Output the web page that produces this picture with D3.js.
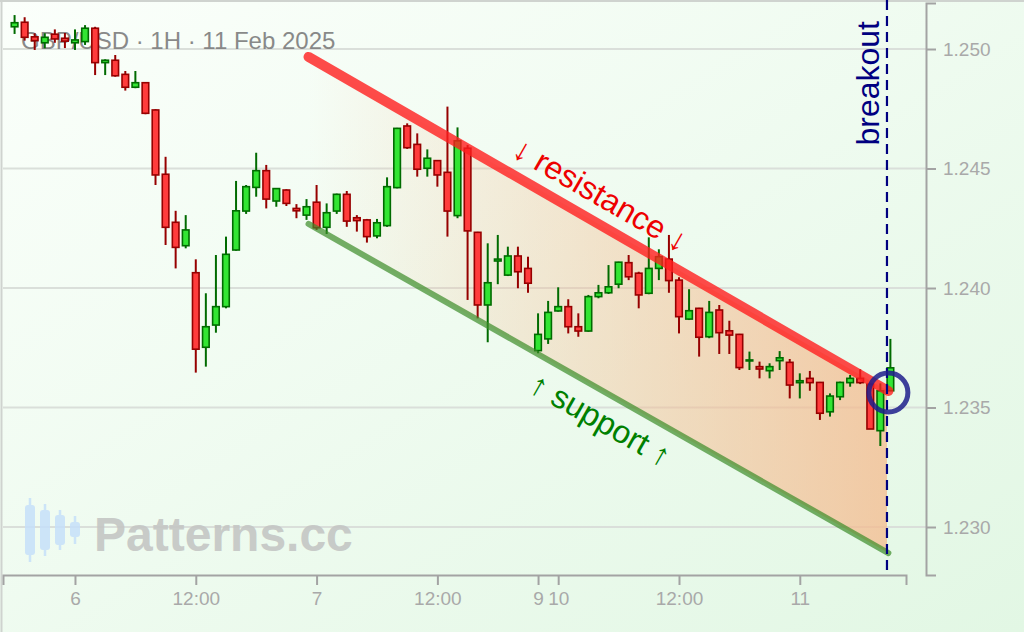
<!DOCTYPE html>
<html>
<head>
<meta charset="utf-8">
<title>GBP/USD 1H channel</title>
<script src="https://cdn.jsdelivr.net/npm/d3@7"></script>
<style>
  body { margin: 0; background: #f4fdf4; }
  .axis text { font-family: "Liberation Sans", Arial, sans-serif; font-size: 19px; fill: #a9a9a9; }
  .axis path, .axis line { stroke: #a3a3a3; stroke-width: 2; }
  .lbl { font-family: "Liberation Sans", Arial, sans-serif; }
</style>
</head>
<body>
<div id="chart"></div>
<script>
// hourly candles, index 0 = 5 Feb 18:00 (weekend gap removed)
var opens = [1.25093,1.25112,1.25051,1.25026,1.25062,1.25045,1.25026,1.25031,1.25087,1.24943,
  1.24953,1.24894,1.24840,1.24859,1.24745,1.24476,1.24275,1.24177,1.24064,1.23752,
  1.23845,1.23922,1.24159,1.24322,1.24421,1.24491,1.24364,1.24410,1.24333,1.24305,
  1.24359,1.24254,1.24322,1.24392,1.24294,1.24285,1.24218,1.24261,1.24420,1.24678,
  1.24601,1.24501,1.24533,1.24484,1.24303,1.24585,1.24233,1.23929,1.24113,1.24054,
  1.24134,1.24082,1.23738,1.23787,1.23904,1.23922,1.23838,1.23820,1.23964,1.23980,
  1.24016,1.24106,1.24062,1.23978,1.24082,1.24121,1.24033,1.23870,1.23915,1.23796,
  1.23908,1.23821,1.23806,1.23695,1.23671,1.23654,1.23696,1.23689,1.23604,1.23622,
  1.23605,1.23482,1.23545,1.23604,1.23622,1.23598,1.23403,1.23570];
var highs = [1.25142,1.25133,1.25066,1.25066,1.25082,1.25067,1.25082,1.25100,1.25093,1.24957,
  1.24975,1.24908,1.24908,1.24861,1.24748,1.24549,1.24323,1.24305,1.24120,1.23978,
  1.24138,1.24215,1.24448,1.24431,1.24566,1.24515,1.24418,1.24413,1.24351,1.24372,
  1.24431,1.24354,1.24395,1.24406,1.24305,1.24289,1.24289,1.24463,1.24670,1.24689,
  1.24647,1.24580,1.24535,1.24759,1.24672,1.24598,1.24235,1.24187,1.24222,1.24173,
  1.24173,1.24131,1.23894,1.23946,1.24003,1.23953,1.23894,1.23971,1.24013,1.24096,
  1.24110,1.24138,1.24068,1.24212,1.24162,1.24222,1.24045,1.23995,1.23917,1.23946,
  1.23929,1.23863,1.23808,1.23734,1.23692,1.23685,1.23736,1.23703,1.23643,1.23653,
  1.23607,1.23559,1.23608,1.23636,1.23660,1.23601,1.23601,1.23787];
var lows = [1.25063,1.25035,1.24996,1.25003,1.25026,1.25004,1.24996,1.25017,1.24891,1.24891,
  1.24884,1.24826,1.24836,1.24727,1.24431,1.24180,1.24082,1.24166,1.23646,1.23671,
  1.23813,1.23915,1.24156,1.24310,1.24382,1.24333,1.24340,1.24343,1.24292,1.24285,
  1.24243,1.24226,1.24310,1.24256,1.24236,1.24190,1.24208,1.24256,1.24417,1.24582,
  1.24466,1.24466,1.24424,1.24215,1.24292,1.23950,1.23873,1.23773,1.24016,1.24050,
  1.23999,1.23980,1.23727,1.23766,1.23901,1.23810,1.23796,1.23817,1.23957,1.23975,
  1.23999,1.24033,1.23915,1.23974,1.24033,1.23980,1.23810,1.23866,1.23713,1.23790,
  1.23724,1.23724,1.23657,1.23657,1.23622,1.23622,1.23657,1.23538,1.23538,1.23570,
  1.23448,1.23462,1.23531,1.23587,1.23598,1.23410,1.23339,1.23570];
var closes = [1.25110,1.25049,1.25035,1.25049,1.25042,1.25033,1.25038,1.25087,1.24943,1.24953,
  1.24888,1.24840,1.24859,1.24731,1.24473,1.24254,1.24170,1.24243,1.23744,1.23838,
  1.23922,1.24141,1.24323,1.24424,1.24491,1.24372,1.24416,1.24354,1.24323,1.24340,
  1.24252,1.24315,1.24392,1.24280,1.24282,1.24215,1.24273,1.24424,1.24668,1.24587,
  1.24497,1.24543,1.24473,1.24322,1.24616,1.24239,1.23929,1.24022,1.24121,1.24134,
  1.24068,1.24020,1.23806,1.23898,1.23922,1.23838,1.23820,1.23964,1.23980,1.24005,
  1.24108,1.24047,1.23971,1.24082,1.24131,1.24031,1.23880,1.23905,1.23794,1.23898,
  1.23813,1.23803,1.23667,1.23699,1.23661,1.23671,1.23708,1.23594,1.23612,1.23604,
  1.23476,1.23548,1.23605,1.23622,1.23604,1.23410,1.23570,1.23666];

var xTickIdx = [6, 18, 30, 42, 52, 54, 66, 78];
var xTickLabels = ["6", "12:00", "7", "12:00", "9", "10", "12:00", "11"];
var yTicks = [1.230, 1.235, 1.240, 1.245, 1.250];

// channel lines [index, price]
var resistance = [[29.2, 1.24967], [86.8, 1.23569]];
var support = [[29.2, 1.24268], [86.8, 1.22891]];
var breakoutIdx = 86.66;
var breakoutPoint = [86.8, 1.23563];
var resLabel = [58.15, 1.24385];
var supLabel = [58.15, 1.23444];

var W = 1024, H = 632;
var svg = d3.select("#chart").append("svg").attr("width", W).attr("height", H);
var defs = svg.append("defs");

var bg = defs.append("linearGradient").attr("id", "bg")
  .attr("x1", 0).attr("y1", 0).attr("x2", 1).attr("y2", 1);
bg.append("stop").attr("offset", "0%").attr("stop-color", "#fbfffb");
bg.append("stop").attr("offset", "100%").attr("stop-color", "#e2f7e4");
svg.append("rect").attr("width", W).attr("height", H).attr("fill", "url(#bg)");

// frame
svg.append("line").attr("x1", 1.5).attr("x2", 1.5).attr("y1", 0).attr("y2", H).attr("stroke", "#cfd3cf").attr("stroke-width", 2);
svg.append("line").attr("x1", 0).attr("x2", W).attr("y1", 1).attr("y2", 1).attr("stroke", "#cfd3cf").attr("stroke-width", 2);

var x = d3.scaleLinear().domain([-1.15, 88.55]).range([3, 906]);
var y = d3.scaleLinear().domain([1.227992, 1.251925]).range([575, 3]);

// grid
svg.append("g").selectAll("line").data(yTicks).enter().append("line")
  .attr("x1", 3).attr("x2", 926)
  .attr("y1", function(d) { return y(d); }).attr("y2", function(d) { return y(d); })
  .attr("stroke", "#dadfda").attr("stroke-width", 2);

// channel fill, fading in to the right
function lineAt(l, i) {
  var t = (i - l[0][0]) / (l[1][0] - l[0][0]);
  return l[0][1] + t * (l[1][1] - l[0][1]);
}
var fg = defs.append("linearGradient").attr("id", "chan").attr("gradientUnits", "userSpaceOnUse")
  .attr("x1", x(resistance[0][0])).attr("x2", x(breakoutIdx)).attr("y1", 0).attr("y2", 0);
fg.append("stop").attr("offset", "0%").attr("stop-color", "#f5b98c").attr("stop-opacity", 0);
fg.append("stop").attr("offset", "100%").attr("stop-color", "#f5b98c").attr("stop-opacity", 0.74);
var poly = [
  [resistance[0][0], resistance[0][1]],
  [breakoutIdx, lineAt(resistance, breakoutIdx)],
  [breakoutIdx, lineAt(support, breakoutIdx)],
  [support[0][0], support[0][1]]
];
svg.append("path")
  .attr("d", d3.line().x(function(d) { return x(d[0]); }).y(function(d) { return y(d[1]); })(poly) + "Z")
  .attr("fill", "url(#chan)");

// title + watermark
svg.append("text").attr("class", "lbl").attr("x", 21).attr("y", 49)
  .attr("font-size", 24).attr("fill", "#7d7d7d").attr("opacity", 0.9)
  .text("GBP/USD · 1H · 11 Feb 2025");

var logo = [[30, 498, 562, 505, 555], [45, 504, 556, 510, 550], [60, 510, 550, 515, 545], [75, 516, 544, 522, 537]];
var lg = svg.append("g").attr("opacity", 0.85);
lg.selectAll("line").data(logo).enter().append("line")
  .attr("x1", function(d) { return d[0]; }).attr("x2", function(d) { return d[0]; })
  .attr("y1", function(d) { return d[1]; }).attr("y2", function(d) { return d[2]; })
  .attr("stroke", "#c6e0fa").attr("stroke-width", 2.5);
lg.selectAll("rect").data(logo).enter().append("rect")
  .attr("x", function(d) { return d[0] - 5; }).attr("width", 10)
  .attr("y", function(d) { return d[3]; }).attr("height", function(d) { return d[4] - d[3]; })
  .attr("rx", 3).attr("fill", "#c6e0fa");
svg.append("text").attr("class", "lbl").attr("x", 94).attr("y", 551)
  .attr("font-size", 48).attr("font-weight", "bold").attr("fill", "#c4c6c4").attr("opacity", 0.9)
  .text("Patterns.cc");

// candles
var candles = opens.map(function(o, i) {
  return { i: i, o: o, h: highs[i], l: lows[i], c: closes[i] };
});
var cg = svg.append("g").selectAll("g").data(candles).enter().append("g");
cg.append("line")
  .attr("x1", function(d) { return x(d.i); }).attr("x2", function(d) { return x(d.i); })
  .attr("y1", function(d) { return y(d.h); }).attr("y2", function(d) { return y(d.l); })
  .attr("stroke", function(d) { return d.c >= d.o ? "#006b00" : "#960000"; })
  .attr("stroke-width", 2);
cg.append("rect")
  .attr("x", function(d) { return x(d.i) - 3.3; }).attr("width", 6.6)
  .attr("y", function(d) { return y(Math.max(d.o, d.c)); })
  .attr("height", function(d) { return Math.max(1, Math.abs(y(d.o) - y(d.c))); })
  .attr("fill", function(d) { return d.c >= d.o ? "#33e533" : "#ff3c3c"; })
  .attr("stroke", function(d) { return d.c >= d.o ? "#006b00" : "#960000"; })
  .attr("stroke-width", 1.6);

// channel lines
var ln = d3.line().x(function(d) { return x(d[0]); }).y(function(d) { return y(d[1]); });
svg.append("path").attr("d", ln(resistance)).attr("fill", "none")
  .attr("stroke", "#ff1e1e").attr("stroke-opacity", 0.8).attr("stroke-width", 10).attr("stroke-linecap", "round");
svg.append("path").attr("d", ln(support)).attr("fill", "none")
  .attr("stroke", "#3c8c28").attr("stroke-opacity", 0.7).attr("stroke-width", 6).attr("stroke-linecap", "round");

function angle(l) {
  return Math.atan2(y(l[1][1]) - y(l[0][1]), x(l[1][0]) - x(l[0][0])) * 180 / Math.PI;
}
svg.append("text").attr("class", "lbl")
  .attr("transform", "translate(" + x(resLabel[0]) + "," + y(resLabel[1]) + ") rotate(" + angle(resistance) + ")")
  .attr("text-anchor", "middle").attr("dy", "0.3em")
  .attr("font-size", 32).attr("fill", "#ee0000")
  .text("↓ resistance ↓");
svg.append("text").attr("class", "lbl")
  .attr("transform", "translate(" + x(supLabel[0]) + "," + y(supLabel[1]) + ") rotate(" + angle(support) + ")")
  .attr("text-anchor", "middle").attr("dy", "0.3em")
  .attr("font-size", 32).attr("fill", "#008000")
  .text("↑ support ↑");

// breakout marker
svg.append("line").attr("x1", x(breakoutIdx)).attr("x2", x(breakoutIdx)).attr("y1", 0).attr("y2", 575)
  .attr("stroke", "#000080").attr("stroke-width", 2.2).attr("stroke-dasharray", "10,6");
svg.append("text").attr("class", "lbl")
  .attr("transform", "translate(" + (x(breakoutIdx) - 8) + ",21) rotate(-90)")
  .attr("text-anchor", "end").attr("font-size", 32).attr("fill", "#000080")
  .text("breakout");
svg.append("circle").attr("cx", x(breakoutPoint[0])).attr("cy", y(breakoutPoint[1])).attr("r", 19.5)
  .attr("fill", "none").attr("stroke", "#1e1e8c").attr("stroke-opacity", 0.85).attr("stroke-width", 5);

// axes
svg.append("g").attr("class", "axis").attr("transform", "translate(0,575)")
  .call(d3.axisBottom(x).tickValues(xTickIdx)
    .tickFormat(function(d, i) { return xTickLabels[i]; })
    .tickSize(10).tickSizeOuter(10).tickPadding(7));
svg.append("g").attr("class", "axis").attr("transform", "translate(926,0)")
  .call(d3.axisRight(y).tickValues(yTicks).tickFormat(d3.format(".3f"))
    .tickSize(10).tickSizeOuter(10).tickPadding(7));
</script>
</body>
</html>
